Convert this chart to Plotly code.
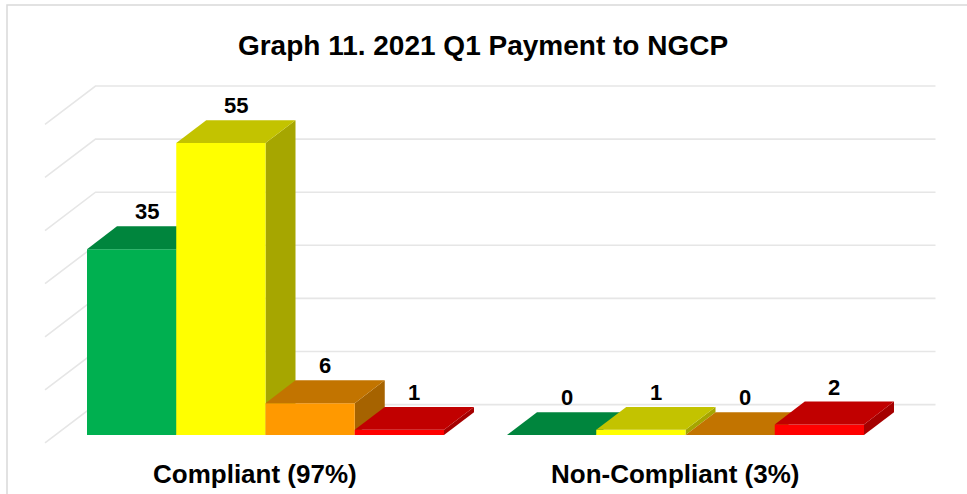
import plotly.graph_objects as go

# ---------------- data ----------------
categories = ["Compliant (97%)", "Non-Compliant (3%)"]
green_vals = [35, 0]
yellow_vals = [55, 1]
orange_vals = [6, 0]
red_vals = [1, 2]
y_ticks = [0, 10, 20, 30, 40, 50, 60]
title_text = "Graph 11. 2021 Q1 Payment to NGCP"

series = [green_vals, yellow_vals, orange_vals, red_vals]

# ---------------- styles ----------------
front_colors = ["#00B050", "#FFFF00", "#FF9900", "#FF0000"]
top_colors = ["#00853D", "#C3C300", "#C27400", "#C10000"]
side_colors = ["#00703A", "#A6A600", "#A66300", "#A50000"]
grid_color = "#E6E6E6"
FONT = "Liberation Sans, Arial, sans-serif"

W, H = 967, 494
PX_X = 420.0      # pixels per category unit
PX_Y = 5.31       # pixels per value unit
SLOPE = 0.76      # depth rise per depth run

def depth(px):
    return px / PX_X, px * SLOPE / PX_Y

BAR_DX, BAR_DY = depth(30)      # bar depth
WALL_DX, WALL_DY = depth(40)    # back wall
FLOOR_DX, FLOOR_DY = depth(-10.5)  # front edge of floor

GROUP_W = 0.85
BAR_W = GROUP_W / len(series)

x_lo = -0.5 - 55.5 / PX_X
x_hi = x_lo + W / PX_X
y_hi = 435 / PX_Y
y_lo = y_hi - H / PX_Y

fig = go.Figure()

def poly(xs, ys, color):
    fig.add_trace(go.Scatter(
        x=xs + [xs[0]], y=ys + [ys[0]], mode="lines", fill="toself",
        fillcolor=color, line=dict(width=0, color=color),
        hoverinfo="skip", showlegend=False))

# gridlines: left side wall diagonals + back wall horizontals
left_plane = -0.5
right_plane = len(categories) - 0.5
for t in y_ticks:
    fig.add_trace(go.Scatter(
        x=[left_plane + FLOOR_DX, left_plane + WALL_DX, right_plane + WALL_DX],
        y=[t + FLOOR_DY, t + WALL_DY, t + WALL_DY],
        mode="lines", line=dict(color=grid_color, width=1.6),
        hoverinfo="skip", showlegend=False))

# bars (painter's order: left to right)
for ci, cat in enumerate(categories):
    for si, vals in enumerate(series):
        v = vals[ci]
        x0 = ci - GROUP_W / 2 + si * BAR_W
        x1 = x0 + BAR_W
        # side face
        poly([x1, x1 + BAR_DX, x1 + BAR_DX, x1],
             [0, BAR_DY, v + BAR_DY, v], side_colors[si])
        # front face
        if v > 0:
            poly([x0, x1, x1, x0], [0, 0, v, v], front_colors[si])
        # top face
        poly([x0, x1, x1 + BAR_DX, x0 + BAR_DX],
             [v, v, v + BAR_DY, v + BAR_DY], top_colors[si])
        # value label
        fig.add_annotation(
            x=(x0 + x1) / 2 + BAR_DX / 2, y=v + BAR_DY,
            xref="x", yref="y", text=f"<b>{v}</b>", showarrow=False,
            yanchor="bottom", xanchor="center",
            font=dict(family=FONT, size=22, color="#000000"))
    # category label
    fig.add_annotation(
        x=ci + FLOOR_DX, y=FLOOR_DY, xref="x", yref="y",
        text=f"<b>{cat}</b>", showarrow=False, yanchor="middle",
        yshift=-31, font=dict(family=FONT, size=26, color="#000000"))

# chart-area border
fig.add_shape(type="rect", xref="paper", yref="paper",
              x0=7 / W, x1=1.02, y0=-0.02, y1=1 - 5 / H,
              line=dict(color="#D9D9D9", width=1.5), layer="below")

fig.update_layout(
    width=W, height=H,
    margin=dict(l=0, r=0, t=0, b=0, autoexpand=False),
    paper_bgcolor="white", plot_bgcolor="white",
    title=dict(text=f"<b>{title_text}</b>", x=483 / W, xref="paper",
               y=1 - 45 / H, yref="paper", xanchor="center", yanchor="middle",
               font=dict(family=FONT, size=28, color="#000000")),
    xaxis=dict(range=[x_lo, x_hi], visible=False, fixedrange=True),
    yaxis=dict(range=[y_lo, y_hi], visible=False, fixedrange=True),
    showlegend=False,
)

fig.write_html("out.html",
               config={"displayModeBar": False, "staticPlot": True},
               post_script="document.body.style.margin='0';document.body.style.overflow='hidden';")
